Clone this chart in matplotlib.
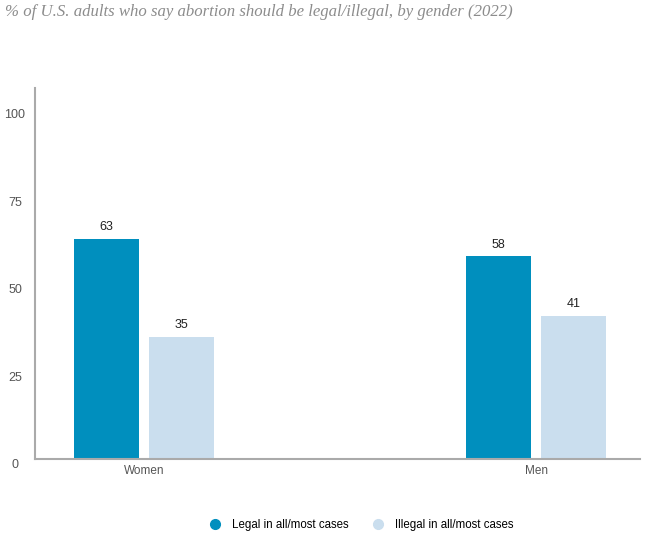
import numpy as np
import matplotlib
matplotlib.use('Agg')
import matplotlib.pyplot as plt
from matplotlib.lines import Line2D

# data
groups = ['Women', 'Men']
legal = [63, 58]
illegal = [35, 41]
series_names = ['Legal in all/most cases', 'Illegal in all/most cases']
yticks = [0, 25, 50, 75, 100]

c_legal = '#008FBE'
c_illegal = '#CADEEE'

fig = plt.figure(figsize=(6.49, 5.37), dpi=100)
ax = fig.add_axes([0.054, 0.145, 0.932, 0.691])

x = np.arange(len(groups))
w = 0.166
off = 0.0957
b1 = ax.bar(x - off, legal, w, color=c_legal, label=series_names[0])
b2 = ax.bar(x + off, illegal, w, color=c_illegal, label=series_names[1])

for bars in (b1, b2):
	for r in bars:
		ax.text(r.get_x() + r.get_width() / 2, r.get_height() + 1.5, str(int(r.get_height())),
			ha='center', va='bottom', fontsize=9, color='#222222', family='Liberation Sans')

ax.set_xlim(-0.278, 1.265)
ax.set_ylim(0, 106)
ax.set_xticks(x)
ax.set_xticklabels(groups, fontsize=8.5, color='#555555', family='Liberation Sans')
ax.set_yticks(yticks)
ax.set_yticklabels([str(t) for t in yticks], fontsize=9, color='#555555', family='Liberation Sans')
ax.tick_params(axis='both', length=0)
ax.tick_params(axis='y', pad=14.4)
ax.tick_params(axis='x', pad=4)
for lbl in ax.get_yticklabels():
	lbl.set_verticalalignment('top')
	lbl.set_horizontalalignment('center')
for s in ['top', 'right']:
	ax.spines[s].set_visible(False)
for s in ['left', 'bottom']:
	ax.spines[s].set_color('#AAAAAA')
	ax.spines[s].set_linewidth(1.5)

fig.text(0.008, 0.977, '% of U.S. adults who say abortion should be legal/illegal, by gender (2022)',
	fontsize=12.1, style='italic', color='#8C8C8C', family='Liberation Serif', va='center')

handles = [Line2D([], [], marker='o', ls='', color=c_legal, markersize=7),
	Line2D([], [], marker='o', ls='', color=c_illegal, markersize=7)]
fig.legend(handles, series_names, loc='center', bbox_to_anchor=(0.557, 0.022), ncol=2,
	frameon=False, prop={'family': 'Liberation Sans', 'size': 8.3}, handletextpad=1.0,
	columnspacing=2.0, handlelength=1.0)

fig.savefig('out.png', dpi=100)
